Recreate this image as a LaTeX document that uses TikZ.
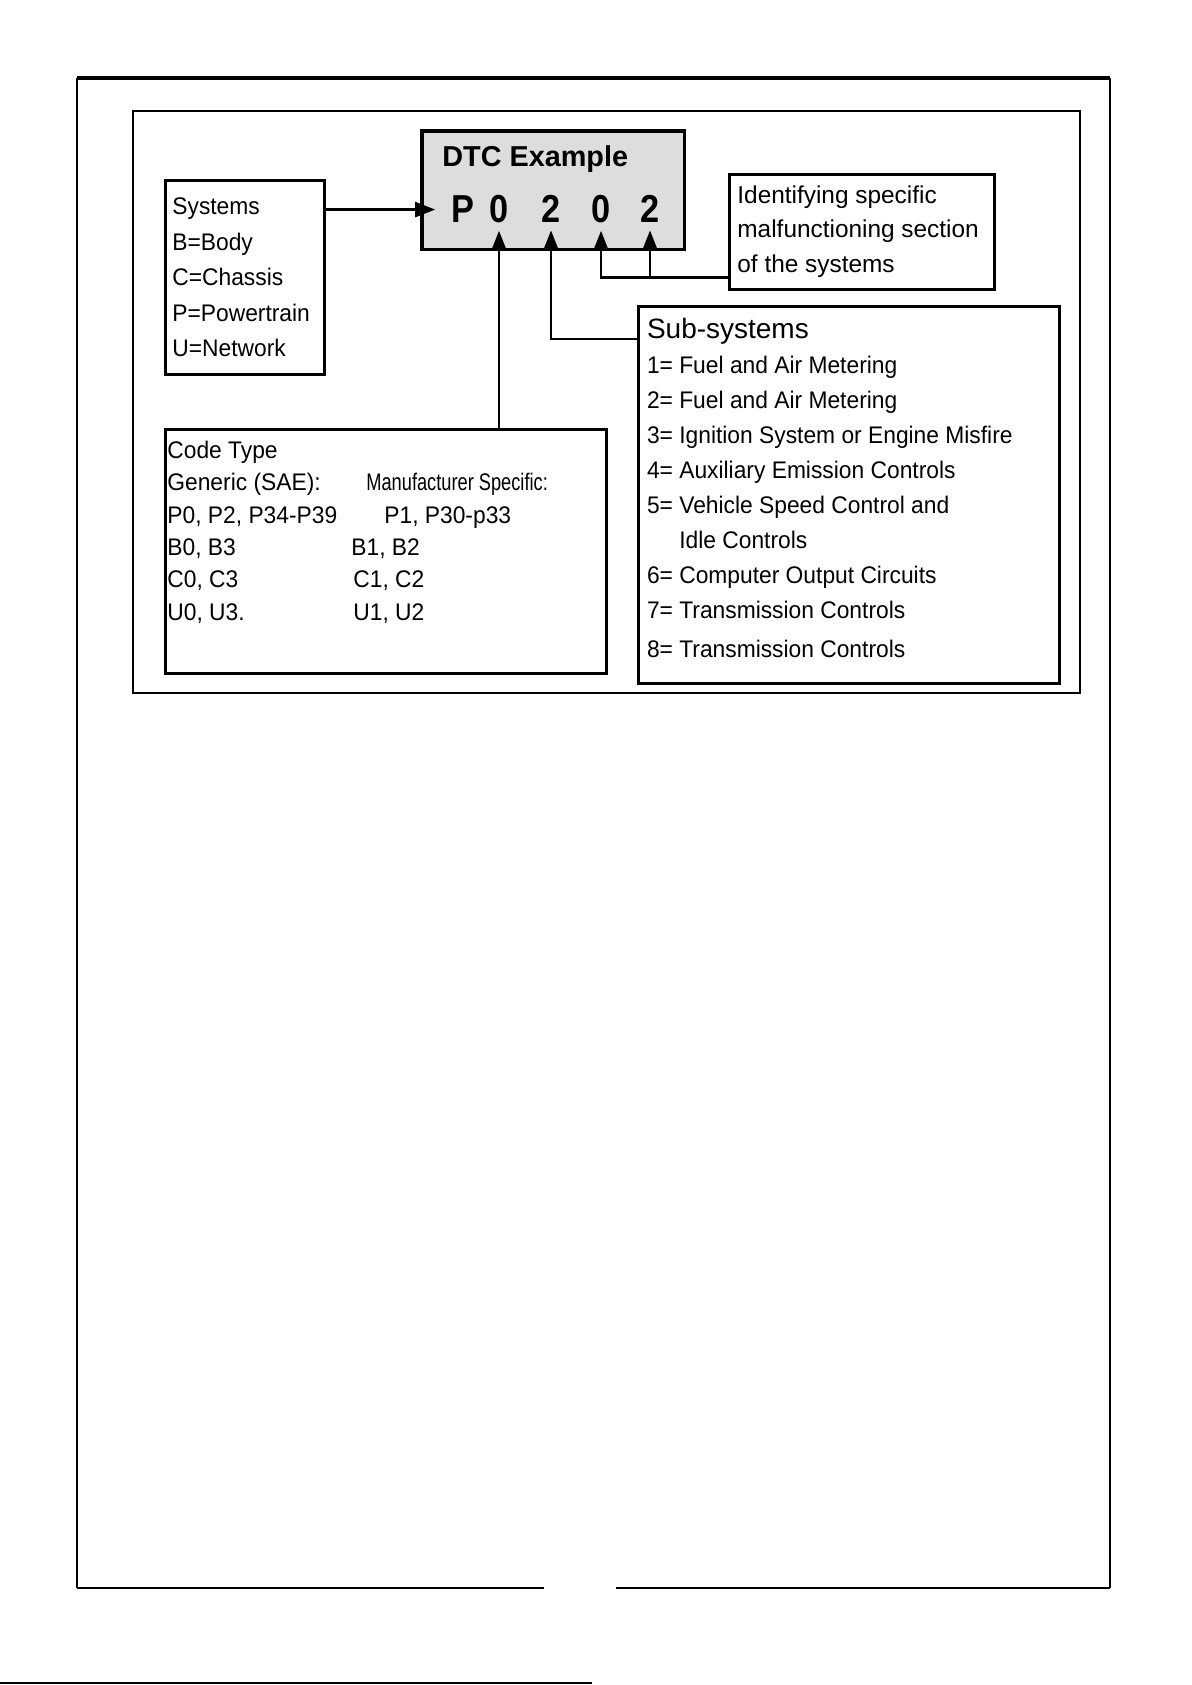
\documentclass[tikz,border=0pt]{standalone}
\usepackage{fontspec}
\setmainfont{Liberation Sans}[FakeStretch=0.95]
\newfontfamily\widefont{Liberation Sans}
\newfontfamily\tightfont{Liberation Sans}[FakeStretch=0.76]
\newfontfamily\digitfont{Liberation Sans}[FakeStretch=0.88]
\usetikzlibrary{arrows.meta,positioning,calc}
\definecolor{dtcgray}{RGB}{221,221,221}
\newcommand{\codepair}[3]{\makebox[#1][l]{#2}#3}

\begin{document}
\begin{tikzpicture}[
  x=0.5pt, y=-0.5pt,
  box/.style={draw,line width=1.3pt,inner sep=0pt,anchor=north west},
  txt/.style={inner sep=0pt,anchor=north west,align=left,
    font=\fontsize{12}{17.5}\selectfont},
  digit/.style={inner sep=0pt,anchor=base,
    font=\digitfont\bfseries\fontsize{19.5}{20}\selectfont},
  arr/.style={-{Triangle[length=10pt,width=7.5pt]},line width=1.3pt}
]
  \useasboundingbox (0,0) rectangle (1191,1685);

  % Page frame
  \draw[line width=1.8pt] (77,78) -- (1110,78);
  \draw[line width=0.6pt] (77,1588) -- (77,78);
  \draw[line width=0.6pt] (1110,78) -- (1110,1588);
  \draw[line width=1pt] (77,1588) -- (544,1588);
  \draw[line width=1pt] (616,1588) -- (1110,1588);
  \draw[line width=1.2pt] (0,1683) -- (592,1683);
  \draw[line width=0.9pt] (133,111) rectangle (1080,693);

  % DTC example
  \node[box,fill=dtcgray,minimum width=131.5pt,minimum height=59.5pt] (dtc) at (420,129) {};
  \draw[line width=0.6pt] ([xshift=1.5pt]dtc.south west) |- ([yshift=-1.5pt]dtc.north east);
  \node[anchor=base west,inner sep=0pt,font=\widefont\bfseries\fontsize{14.4}{16}\selectfont] (dtctitle) at (442,167) {DTC Example};
  \node[digit] (dP) at (463,223) {P};
  \node[digit] (d1) at (499,223) {0};
  \node[digit] (d2) at (551,223) {2};
  \node[digit] (d3) at (601,223) {0};
  \node[digit] (d4) at (650,223) {2};

  % Systems
  \node[box,minimum width=79.5pt,minimum height=97pt] (sys) at (164,179) {};
  \node[txt,font=\fontsize{12}{17.75}\selectfont,below right=9.25pt and 4pt of sys.north west] (systxt)
    {Systems\\B=Body\\C=Chassis\\P=Powertrain\\U=Network};

  % Identifying section
  \node[box,minimum width=132.5pt,minimum height=57.5pt] (ident) at (728,173) {};
  \node[txt,font=\widefont\fontsize{12.2}{17.25}\selectfont,below right=6pt and 4.5pt of ident.north west] (identtxt)
    {Identifying specific\\malfunctioning section\\of the systems};

  % Sub-systems
  \node[box,minimum width=210.5pt,minimum height=188.5pt] (sub) at (637,305) {};
  \node[txt,below right=6.3pt and 4.8pt of sub.north west] (subtxt)
    {{\widefont\fontsize{14}{17.5}\selectfont Sub-systems}\\
     1= Fuel and Air Metering\\
     2= Fuel and Air Metering\\
     3= Ignition System or Engine Misfire\\
     4= Auxiliary Emission Controls\\
     5= Vehicle Speed Control and\\
     \phantom{5= }Idle Controls\\
     6= Computer Output Circuits\\
     7= Transmission Controls\\[2pt]
     8= Transmission Controls};

  % Code type
  \node[box,minimum width=220.5pt,minimum height=122pt] (code) at (164,428) {};
  \node[txt,font=\fontsize{12}{16.2}\selectfont,below right=6.25pt and 1.5pt of code.north west] (codetxt)
    {Code Type\\
     \codepair{99.5pt}{Generic (SAE):}{\tightfont Manufacturer Specific:}\\
     \codepair{108.5pt}{P0, P2, P34-P39}{P1, P30-p33}\\
     \codepair{92pt}{B0, B3}{B1, B2}\\
     \codepair{93pt}{C0, C3}{C1, C2}\\
     \codepair{93pt}{U0, U3.}{U1, U2}};

  % Connectors
  \coordinate (split) at ([yshift=6.5pt]ident.south west);
  \draw[arr,shorten >=8pt] (sys.east |- dP.center) -- (dP.west);
  \draw[arr,shorten >=3.5pt] (code.north -| d1.south) -- (d1.south);
  \draw[arr,shorten >=3.5pt] ([yshift=-17pt]sub.north west) -| (d2.south);
  \draw[arr,shorten >=3.5pt] (split) -| (d3.south);
  \draw[arr,shorten >=3.5pt] (split -| d4.south) -- (d4.south);
\end{tikzpicture}
\end{document}
